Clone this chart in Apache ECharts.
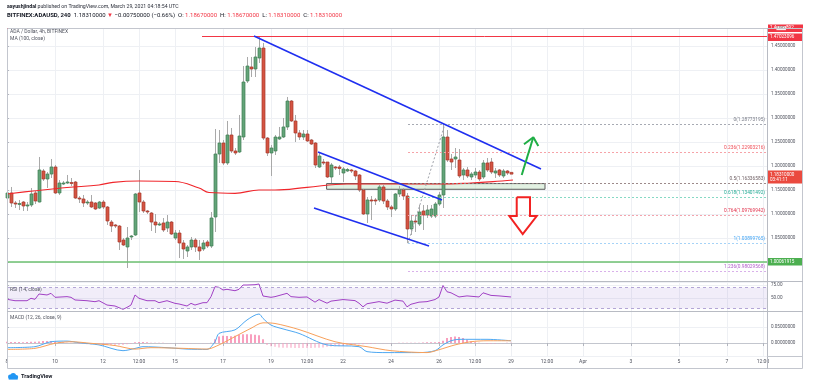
<!DOCTYPE html>
<html><head><meta charset="utf-8">
<script src="https://cdn.jsdelivr.net/npm/echarts@6/dist/echarts.min.js"></script>
<style>html,body{margin:0;padding:0;background:#fff}#c{width:819px;height:385px}</style>
</head><body><div id="c"></div>
<script>
// ---------- DATA (4h candles, BITFINEX:ADAUSD, from Mar 8 00:00) ----------
const opens = [1.1333,1.1438,1.1229,1.1208,1.125,1.1167,1.1188,1.1438,1.125,1.1896,1.1729,1.1833,1.1979,1.1438,1.1635,1.1646,1.1656,1.1667,1.1333,1.1313,1.1229,1.125,1.1229,1.1125,1.125,1.1146,1.0833,1.0771,1.075,1.0458,1.0313,1.0521,1.0563,1.1438,1.125,1.1063,1.1021,1.0833,1.0781,1.0813,1.0708,1.0833,1.05,1.0604,1.0396,1.0229,1.0313,1.0458,1.0313,1.0271,1.0417,1.0333,1.0938,1.225,1.2479,1.2063,1.2646,1.2313,1.2292,1.2604,1.3771,1.4063,1.4021,1.425,1.4458,1.2583,1.2271,1.2313,1.2563,1.2604,1.2813,1.3354,1.2938,1.2688,1.2604,1.2667,1.2542,1.2479,1.1979,1.2083,1.2083,1.1771,1.1979,1.1979,1.1854,1.1896,1.1917,1.1896,1.1813,1.15,1.1,1.1292,1.1292,1.1292,1.1563,1.1271,1.1146,1.1104,1.1417,1.15,1.1375,1.0688,1.0854,1.0792,1.1063,1.0979,1.0958,1.0958,1.1208,1.1396,1.2604,1.2146,1.2146,1.2125,1.1813,1.1917,1.1771,1.1813,1.1875,1.1771,1.2063,1.2083,1.1854,1.1917,1.1792,1.1896,1.1867];
const closes = [1.1438,1.1229,1.1208,1.1219,1.1167,1.1188,1.1417,1.1271,1.1917,1.1729,1.1833,1.1979,1.1438,1.1646,1.1646,1.1667,1.1635,1.1333,1.1313,1.1229,1.125,1.1146,1.1104,1.125,1.1146,1.0854,1.075,1.075,1.0417,1.0354,1.05,1.0542,1.1417,1.125,1.1063,1.1042,1.0833,1.0771,1.0792,1.0667,1.0833,1.0583,1.0604,1.0396,1.0271,1.0313,1.0458,1.0313,1.0229,1.0396,1.0333,1.0917,1.225,1.2479,1.2063,1.2646,1.2313,1.2271,1.2625,1.375,1.4083,1.4021,1.4271,1.4458,1.2583,1.2271,1.2375,1.2604,1.2604,1.2813,1.3354,1.2938,1.2688,1.2604,1.2667,1.2521,1.2458,1.2021,1.2208,1.2063,1.1771,1.2021,1.1958,1.1948,1.1938,1.1927,1.1896,1.1792,1.15,1.1,1.1292,1.1271,1.1271,1.1563,1.1271,1.1146,1.1104,1.1417,1.15,1.1375,1.0688,1.0854,1.0833,1.1042,1.0979,1.1083,1.1104,1.1208,1.1396,1.2604,1.2125,1.2083,1.2188,1.1792,1.1917,1.1792,1.1833,1.1875,1.1729,1.2063,1.1917,1.1875,1.1896,1.1813,1.1896,1.1854,1.1831];
const highs = [1.1479,1.1563,1.1271,1.1292,1.1271,1.125,1.1542,1.1479,1.2188,1.1938,1.1875,1.2146,1.2021,1.1708,1.1688,1.1813,1.175,1.1688,1.1375,1.1396,1.1292,1.1396,1.125,1.1271,1.1292,1.1167,1.0875,1.0792,1.0771,1.05,1.0729,1.0563,1.1438,1.1917,1.1292,1.1083,1.1042,1.1,1.0833,1.0917,1.0979,1.0854,1.0667,1.0667,1.0458,1.0354,1.0521,1.05,1.0458,1.0458,1.0458,1.1042,1.2771,1.275,1.2542,1.2938,1.2792,1.2375,1.3063,1.4083,1.4271,1.4271,1.4479,1.4702,1.4563,1.2604,1.2438,1.2646,1.2813,1.3,1.3438,1.3375,1.3063,1.275,1.275,1.275,1.2563,1.25,1.2271,1.2146,1.2083,1.2063,1.2,1.2021,1.1979,1.1958,1.1938,1.1917,1.1833,1.1521,1.1354,1.1375,1.1333,1.1604,1.1604,1.1313,1.1188,1.1438,1.1583,1.1542,1.1438,1.0979,1.0979,1.1188,1.1188,1.1188,1.1188,1.125,1.1458,1.2877,1.275,1.225,1.2375,1.2354,1.1958,1.1979,1.1875,1.1958,1.1917,1.2125,1.2167,1.2167,1.1958,1.1938,1.1938,1.1917,1.1867];
const lows = [1.1313,1.1146,1.1125,1.1083,1.1063,1.1063,1.1146,1.1208,1.124,1.1688,1.1542,1.175,1.1417,1.1396,1.1604,1.1625,1.1583,1.1313,1.1229,1.1146,1.1188,1.1125,1.1083,1.1104,1.1104,1.0771,1.0625,1.0708,1.025,1.0333,0.9875,1.0458,1.0542,1.1042,1.1021,1.1,1.0646,1.0604,1.075,1.0625,1.0625,1.0563,1.0458,1.0083,1.0063,1.0104,1.025,1.0208,1.0042,1.0229,1.0292,1.0292,1.0625,1.2063,1.2021,1.2021,1.2271,1.2229,1.2271,1.2542,1.3729,1.3854,1.3854,1.4146,1.2542,1.2208,1.1792,1.2229,1.2542,1.2583,1.275,1.2917,1.25,1.2542,1.2542,1.25,1.2438,1.1958,1.1958,1.2021,1.175,1.1646,1.1917,1.1813,1.1667,1.1875,1.1854,1.1708,1.1458,1.0979,1.0813,1.0875,1.1188,1.125,1.1208,1.1083,1.0938,1.1063,1.1354,1.1292,1.0396,1.0563,1.0625,1.075,1.0667,1.0917,1.0917,1.0917,1.1167,1.1125,1.2083,1.1917,1.1958,1.175,1.1708,1.175,1.1708,1.175,1.1688,1.1729,1.1875,1.1833,1.175,1.1771,1.175,1.1813,1.1831];
// MA(100, close): [candle index, value]
const maPoints = [[0,1.1417],[6.5,1.1479],[15,1.1552],[23,1.1604],[26.5,1.166],[33,1.1688],[42,1.1677],[48,1.1542],[50.5,1.1448],[57,1.1431],[63,1.15],[67,1.15],[75,1.1556],[85,1.1625],[108,1.1625],[116,1.1646],[121.5,1.1673],[126.5,1.1708]];
// RSI(14)
const rsiPoints = [[0,47.5],[2,44.8],[5,44.8],[6,49.4],[7,47.5],[8,57.7],[10,55.8],[11,59],[12,51.3],[15,52.6],[16,51.3],[17,46.2],[20,44.8],[22,42.9],[23,44.8],[25,36.5],[27,34.6],[29,28.2],[30,32],[31,36.5],[32,55.8],[33,49.4],[35,44.8],[37,44.8],[38,41],[40,44.8],[42,39.7],[43,38.5],[45,34.6],[46,39.7],[47,36.5],[49,41],[50,41],[51,52.6],[52,71.8],[53,70.5],[54,65.4],[55,66.7],[57,64],[58,66.7],[59,75],[60,75],[62,75.6],[63,76.9],[64,53.8],[66,51.3],[67,52.6],[70,59],[71,52.6],[73,51.3],[75,52],[77,42],[78,47],[80,40],[81,44],[84,47],[87,45],[88,40],[89,33],[90,39],[93,43],[95,40],[97,46],[99,44],[100,33],[101,38],[103,42],[105,43],[107,47],[108,52],[109,74],[110,62],[111,60],[113,52],[115,54],[118,52],[119,60],[121,55],[123,54],[126,52]];
// MACD(12,26,9)
const macdPoints = [[0,-0.0146],[7,-0.0115],[11,0.004],[15,0.006],[18,0.001],[23,-0.006],[29,-0.024],[32,-0.017],[34,-0.0115],[40,-0.0146],[45,-0.019],[50,-0.020],[52,0.004],[53,0.030],[57,0.041],[60,0.072],[63,0.0906],[64,0.077],[66,0.056],[69,0.044],[73,0.030],[80,-0.006],[88,-0.0115],[90,-0.027],[95,-0.030],[103,-0.030],[107,-0.024],[109,-0.006],[111,0.007],[113,0.0115],[120,0.0115],[126,0.007]];
const signalPoints = [[0,-0.020],[7,-0.0167],[12,-0.001],[16,0.004],[21,-0.001],[27,-0.008],[32,-0.019],[36,-0.0146],[44,-0.0167],[50,-0.019],[53,-0.006],[57,0.020],[61,0.046],[64,0.063],[67,0.061],[73,0.042],[82,0.004],[90,-0.0115],[96,-0.024],[105,-0.030],[108,-0.021],[112,-0.006],[116,0.004],[120,0.007],[126,0.007]];
const histValues = [0.004,0.003,0.003,0.003,0.002,0.003,0.004,0.004,0.005,0.006,0.006,0.006,0.005,0.003,0.002,0.001,0.001,0.0005,-0.002,-0.003,-0.004,-0.005,-0.005,-0.005,-0.006,-0.006,-0.006,-0.006,-0.007,-0.006,-0.004,-0.002,0.002,0.003,0.003,0.002,0.001,0.001,0.0005,0.0005,-0.0005,-0.001,-0.001,-0.001,-0.0015,-0.001,-0.001,-0.001,-0.0005,-0.0005,-0.001,0.001,0.012,0.020,0.023,0.022,0.021,0.023,0.026,0.027,0.027,0.027,0.026,0.024,0.012,-0.006,-0.010,-0.012,-0.014,-0.015,-0.015,-0.015,-0.016,-0.016,-0.016,-0.016,-0.016,-0.015,-0.015,-0.014,-0.012,-0.011,-0.010,-0.010,-0.009,-0.008,-0.007,-0.006,-0.005,-0.004,-0.003,-0.002,-0.002,-0.001,-0.001,-0.001,-0.0005,-0.0005,0.0005,0.001,0.001,0.001,0.001,0.001,0.0015,0.002,0.002,0.002,0.003,0.007,0.016,0.019,0.020,0.019,0.016,0.010,0.005,0.002,0.001,-0.001,-0.002,-0.002,-0.002,-0.001,-0.001,0.0005,0.0005];
// time axis: 4h slots from Mar 8 00:00 to Apr 8 16:00
const slotCount = 191;
const timeTickLabels = [[0,'8'],[12,'10'],[24,'12'],[33,'12:00'],[42,'15'],[54,'17'],[66,'19'],[75,'12:00'],[84,'22'],[96,'24'],[108,'26'],[117,'12:00'],[126,'29'],[135,'12:00'],[144,'Apr'],[156,'3'],[168,'5'],[180,'7'],[189,'12:00']];
// drawings: [candle index, price]
const mainTrendLine = [[61.75,1.4708],[133.5,1.1938]];
const channelUpper = [[77.75,1.2292],[108.75,1.1292]];
const channelLower = [[76.75,1.1125],[105.5,1.0333]];
const fibAnchor = [[100.25,1.03899765],[109.5,1.28773195]];
const fibLevels = [
  [1.28773195,'0(1.28773195)','#a7aab3','#787b86'],
  [1.22903216,'0.236(1.22903216)','#f6a3a8','#ef4b55'],
  [1.16336583,'0.5(1.16336583)','#9c8a8a','#6e5f63'],
  [1.13401492,'0.618(1.13401492)','#86d9c4','#22ab94'],
  [1.09769942,'0.764(1.09769942)','#f4a4ad','#e0314b'],
  [1.03899765,'1(1.03899765)','#a6d3f7','#42a5f5'],
  [0.98029568,'1.236(0.98029568)','#d9b1ea','#b05cc8']
];
const supportZone = [[79.9,1.16336583],[134.5,1.1515]];
const greenArrowShaft = [[128.68,1.1813],[131.58,1.2598]];
const greenArrowHead = [[129.25,1.2452],[131.58,1.2598],[132.83,1.2417]];
const redArrow = [[127.43,1.1348],[130.75,1.1348],[130.75,1.0958],[132.43,1.0958],[128.93,1.0583],[125.58,1.0958],[127.43,1.0958],[127.43,1.1348]];
const topRedLevel = 1.4872, peakLevel = 1.47023096, supportLevel = 1.00061915, lastPrice = 1.1831;

// ---------- CHART ----------
const F = 'Roboto';
const cats = Array.from({length: slotCount}, (_, i) => String(i));
const tickMap = {}; timeTickLabels.forEach(([i, t]) => tickMap[i] = t);
const isTick = (i) => tickMap[i] !== undefined;
const candleRows = opens.map((o, i) => [i, o, closes[i], lows[i], highs[i]]);
const GRID_LINE = '#eef0f4';

function renderCandle(params, api) {
  const i = api.value(0), o = api.value(1), c = api.value(2), l = api.value(3), h = api.value(4);
  const pO = api.coord([i, o]), pC = api.coord([i, c]), pL = api.coord([i, l]), pH = api.coord([i, h]);
  const x = Math.round(pO[0]);
  const up = c >= o;
  const top = Math.min(pO[1], pC[1]), bot = Math.max(pO[1], pC[1]);
  return {type: 'group', children: [
    {type: 'line', shape: {x1: x + 0.5, y1: pH[1], x2: x + 0.5, y2: pL[1]}, style: {stroke: '#a9a9a9', lineWidth: 1}},
    {type: 'rect', shape: {x: x - 1, y: top, width: 3, height: Math.max(bot - top, 1)},
     style: {fill: up ? '#63a479' : '#d55442', stroke: up ? '#3f7f55' : '#a83a2c', lineWidth: 0.7}}
  ]};
}

const catAxis = (gridIndex, showLabels) => ({
  type: 'category', gridIndex, data: cats, boundaryGap: false,
  axisLine: {show: showLabels, lineStyle: {color: '#c3c6ce'}},
  axisTick: {show: showLabels, interval: (i) => isTick(i), length: 3, lineStyle: {color: '#b2b5be'}},
  axisLabel: {show: showLabels, interval: (i) => isTick(i), formatter: (v, i) => tickMap[i] || '', fontSize: 5, fontFamily: F, color: '#50535e', margin: 3},
  splitLine: {show: true, interval: (i) => isTick(i), lineStyle: {color: GRID_LINE}}
});
const valX = (gridIndex) => ({type: 'value', gridIndex, min: 0, max: slotCount - 1, show: false});
const priceAxisBase = {
  position: 'right', axisLine: {show: false},
  axisTick: {show: true, length: 2, lineStyle: {color: '#b2b5be'}},
  splitLine: {show: true, lineStyle: {color: GRID_LINE}}
};

function tag(text, bg, offsetY) {
  return {show: true, position: 'end', distance: 1, formatter: text, color: '#fff', backgroundColor: bg,
    padding: [1, 1, 1, 2], width: 32, fontSize: 4.6, fontFamily: F, lineHeight: 5.5, offset: [0, offsetY || 0],
    rich: {u: {backgroundColor: '#fbe9e9', color: '#555', fontSize: 4, padding: [0, 1], fontFamily: F}}};
}

const option = {
  animation: false,
  backgroundColor: '#ffffff',
  grid: [
    {left: 7, top: 28, width: 760, height: 253, outerBoundsMode: 'none'},
    {left: 7, top: 282, width: 760, height: 29, outerBoundsMode: 'none'},
    {left: 7, top: 311, width: 760, height: 45, outerBoundsMode: 'none'}
  ],
  xAxis: [catAxis(0, false), valX(0), catAxis(1, false), valX(1), catAxis(2, true), valX(2)],
  yAxis: [
    Object.assign({type: 'value', gridIndex: 0, min: 0.96042, max: 1.4875, splitNumber: 10, minInterval: 0.05, maxInterval: 0.05,
      axisLabel: {formatter: (v) => v.toFixed(8), showMinLabel: false, showMaxLabel: false, fontSize: 4.6, fontFamily: F, color: '#50535e', margin: 4}}, priceAxisBase),
    Object.assign({type: 'value', gridIndex: 1, min: 25, max: 80.77, splitNumber: 3, minInterval: 25, maxInterval: 25,
      axisLabel: {formatter: (v) => v.toFixed(2), showMinLabel: false, showMaxLabel: false, fontSize: 4.6, fontFamily: F, color: '#50535e', margin: 4}}, priceAxisBase),
    Object.assign({type: 'value', gridIndex: 2, min: -0.040625, max: 0.1, splitNumber: 3, minInterval: 0.05, maxInterval: 0.05,
      axisLabel: {formatter: (v) => v.toFixed(8), showMinLabel: false, showMaxLabel: false, fontSize: 4.6, fontFamily: F, color: '#50535e', margin: 4}}, priceAxisBase)
  ],
  series: [
    {type: 'custom', name: 'candles', xAxisIndex: 0, yAxisIndex: 0, data: candleRows, renderItem: renderCandle,
     encode: {x: 0, y: [1, 2, 3, 4]}, z: 3, silent: true},
    {type: 'line', name: 'MA', xAxisIndex: 1, yAxisIndex: 0, data: maPoints, smooth: 0.4, symbol: 'none', silent: true,
     lineStyle: {color: '#f0262b', width: 1.2}, z: 4},
    {type: 'line', name: 'trend', xAxisIndex: 1, yAxisIndex: 0, data: mainTrendLine, symbol: 'none', silent: true,
     lineStyle: {color: '#1f2ff0', width: 1.6}, z: 6,
     markArea: {silent: true, itemStyle: {color: 'rgba(190,225,190,0.45)', borderColor: '#5a5a5a', borderWidth: 1},
       data: [[{coord: supportZone[0]}, {coord: supportZone[1]}]]},
     markLine: {silent: true, symbol: ['none', 'none'], animation: false, label: {show: false},
       data: fibLevels.map(([p, text, lc, tc]) => [
         {coord: [fibAnchor[0][0], p], lineStyle: {color: lc, type: [2, 2], width: 1},
          label: {show: true, position: 'insideEndTop', formatter: text, color: tc, fontSize: 4.8, fontFamily: F, distance: 2}},
         {coord: [slotCount - 1, p]}
       ])}
    },
    {type: 'line', name: 'chanU', xAxisIndex: 1, yAxisIndex: 0, data: channelUpper, symbol: 'none', silent: true, lineStyle: {color: '#1f2ff0', width: 1.6}, z: 6},
    {type: 'line', name: 'chanL', xAxisIndex: 1, yAxisIndex: 0, data: channelLower, symbol: 'none', silent: true, lineStyle: {color: '#1f2ff0', width: 1.6}, z: 6},
    {type: 'line', name: 'fibAnchor', xAxisIndex: 1, yAxisIndex: 0, data: fibAnchor, symbol: 'none', silent: true, lineStyle: {color: '#a0a3ab', width: 1, type: [2, 2]}, z: 5},
    {type: 'line', name: 'greenShaft', xAxisIndex: 1, yAxisIndex: 0, data: greenArrowShaft, symbol: 'none', silent: true, lineStyle: {color: '#1fae45', width: 2}, z: 7},
    {type: 'line', name: 'greenHead', xAxisIndex: 1, yAxisIndex: 0, data: greenArrowHead, symbol: 'none', silent: true, lineStyle: {color: '#1fae45', width: 2}, z: 7},
    {type: 'line', name: 'redArrow', xAxisIndex: 1, yAxisIndex: 0, data: redArrow, symbol: 'none', silent: true, lineStyle: {color: '#f22222', width: 2, join: 'miter'}, z: 7},
    {type: 'line', name: 'levels', xAxisIndex: 1, yAxisIndex: 0, data: [], symbol: 'none', silent: true, z: 8,
     markLine: {silent: true, symbol: ['none', 'none'], animation: false,
       data: [
         [{coord: [0, topRedLevel], lineStyle: {color: '#f23645', width: 1, type: 'solid'}, label: tag('1.4{u|USD}892', '#f23645')}, {coord: [slotCount - 1, topRedLevel]}],
         [{coord: [48.75, peakLevel], lineStyle: {color: '#f23645', width: 1, type: 'solid'}, label: tag('1.47023096', '#f23645', 1)}, {coord: [slotCount - 1, peakLevel]}],
         [{coord: [0, supportLevel], lineStyle: {color: '#6cc070', width: 1.6, type: 'solid'}, label: tag('1.00061915', '#4caf50')}, {coord: [slotCount - 1, supportLevel]}],
         [{coord: [0, lastPrice], lineStyle: {color: 'rgba(0,0,0,0)', width: 1, type: 'solid'}, label: tag('1.18310000\n03:41:11', '#ea4a3f', 3)}, {coord: [slotCount - 1, lastPrice]}]
       ]}
    },
    {type: 'line', name: 'RSI', xAxisIndex: 3, yAxisIndex: 1, data: rsiPoints, symbol: 'none', silent: true,
     lineStyle: {color: '#a040c4', width: 1},
     markArea: {silent: true, itemStyle: {color: 'rgba(149,117,205,0.13)'}, data: [[{yAxis: 30}, {yAxis: 70}]]},
     markLine: {silent: true, symbol: ['none', 'none'], label: {show: false}, lineStyle: {color: '#b3a6d6', type: [3, 3], width: 1}, data: [{yAxis: 70}, {yAxis: 30}]}},
    {type: 'bar', name: 'hist', xAxisIndex: 4, yAxisIndex: 2, barWidth: 1, silent: true,
     data: histValues.map(v => ({value: v, itemStyle: {color: v >= 0 ? '#f2417f' : '#f79bbd'}}))},
    {type: 'line', name: 'MACD', xAxisIndex: 5, yAxisIndex: 2, data: macdPoints, smooth: 0.3, symbol: 'none', silent: true, lineStyle: {color: '#4ea8f2', width: 1}},
    {type: 'line', name: 'Signal', xAxisIndex: 5, yAxisIndex: 2, data: signalPoints, smooth: 0.3, symbol: 'none', silent: true, lineStyle: {color: '#f8a05a', width: 1}}
  ],
  graphic: [
    {type: 'text', left: 7, top: 4, style: {text: '{b|aayushjindal} published on TradingView.com, March 29, 2021 04:18:54 UTC', fontSize: 5.2, fontFamily: F, fill: '#2a2e39',
      rich: {b: {fontWeight: 'bold', fontSize: 5.2, fontFamily: F, fill: '#131722'}}}},
    {type: 'text', left: 7, top: 12, style: {text: '{b|BITFINEX:ADAUSD, 240}  1.18310000 {r|▼} −0.00750000 (−0.66%)  O: {r|1.18670000}  H: {r|1.18670000}  L: {r|1.18310000}  C: {r|1.18310000}',
      fontSize: 6, fontFamily: F, fill: '#131722', rich: {b: {fontWeight: 'bold', fontSize: 6, fontFamily: F, fill: '#131722'}, r: {fill: '#f23645', fontSize: 6, fontFamily: F}}}},
    {type: 'text', left: 10, top: 29, z: 20, style: {text: 'ADA / Dollar, 4h, BITFINEX', fontSize: 5, fontFamily: F, fill: '#50535e'}},
    {type: 'text', left: 10, top: 36, z: 20, style: {text: 'MA (100, close)', fontSize: 5, fontFamily: F, fill: '#50535e'}},
    {type: 'text', left: 10, top: 287, z: 20, style: {text: 'RSI (14, close)', fontSize: 5, fontFamily: F, fill: '#50535e'}},
    {type: 'text', left: 10, top: 315, z: 20, style: {text: 'MACD (12, 26, close, 9)', fontSize: 5, fontFamily: F, fill: '#50535e'}},
    {type: 'rect', z: 30, shape: {x: 7.5, y: 28.5, width: 795, height: 340}, style: {fill: 'none', stroke: '#c3c6ce', lineWidth: 1}},
    {type: 'line', z: 30, shape: {x1: 7, y1: 281.5, x2: 803, y2: 281.5}, style: {stroke: '#b8bbc3', lineWidth: 1}},
    {type: 'line', z: 30, shape: {x1: 7, y1: 311.5, x2: 803, y2: 311.5}, style: {stroke: '#b8bbc3', lineWidth: 1}},
    {type: 'line', z: 30, shape: {x1: 767.5, y1: 28, x2: 767.5, y2: 369}, style: {stroke: '#b8bbc3', lineWidth: 1}},
    {type: 'line', z: 30, shape: {x1: 767, y1: 356.5, x2: 803, y2: 356.5}, style: {stroke: '#c3c6ce', lineWidth: 1}},
    {type: 'group', left: 8, top: 373, children: [
      {type: 'circle', shape: {cx: 3, cy: 4, r: 2.2}, style: {fill: '#2196f3'}},
      {type: 'circle', shape: {cx: 6, cy: 3, r: 2.8}, style: {fill: '#2196f3'}},
      {type: 'circle', shape: {cx: 9, cy: 4.3, r: 2}, style: {fill: '#2196f3'}},
      {type: 'rect', shape: {x: 1.5, y: 4.5, width: 9, height: 2.3}, style: {fill: '#2196f3'}}
    ]},
    {type: 'text', left: 21, top: 374, style: {text: 'TradingView', fontSize: 5.6, fontWeight: 'bold', fontFamily: F, fill: '#131722'}}
  ]
};
const chart = echarts.init(document.getElementById('c'), null, {renderer: 'canvas'});
chart.setOption(option);
</script>
</body></html>
